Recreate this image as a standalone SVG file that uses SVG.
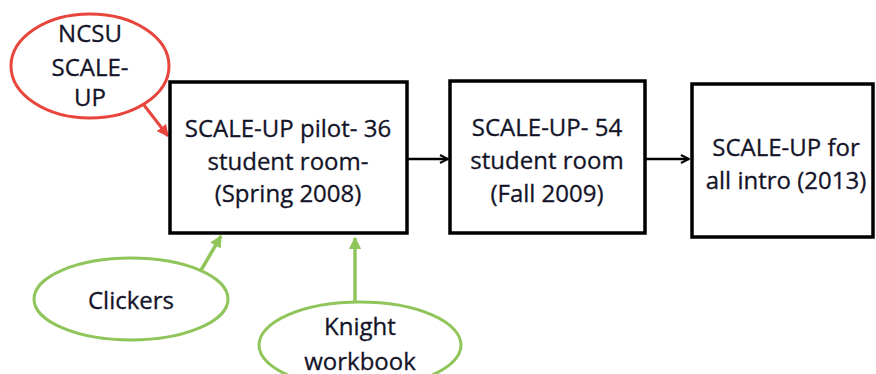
<svg xmlns="http://www.w3.org/2000/svg" width="876" height="374" viewBox="0 0 876 374">
  <style>
    .box { fill: #ffffff; stroke: #000000; stroke-width: 3.5; }
    .red { fill: #ffffff; stroke: #e8453c; stroke-width: 3; }
    .green { fill: #ffffff; stroke: #8fc55a; stroke-width: 3; }
    text { font-family: "Open Sans", "Liberation Sans", sans-serif; font-size: 24px; fill: #141428; text-anchor: middle; stroke: #141428; stroke-width: 0.3; }
    .flow { stroke: #000000; stroke-width: 2.5; fill: none; marker-end: url(#arrowBlack); }
    .redLink { stroke: #e8453c; stroke-width: 3; fill: none; marker-end: url(#arrowRed); }
    .greenLink { stroke: #8fc55a; stroke-width: 3.5; fill: none; marker-end: url(#arrowGreen); }
  </style>
  <defs>
    <marker id="arrowBlack" viewBox="0 0 10 10" refX="9" refY="5" markerWidth="4" markerHeight="4" orient="auto" markerUnits="strokeWidth">
      <path d="M1,1 L9,5 L1,9" fill="none" stroke="#000000" stroke-width="2"/>
    </marker>
    <marker id="arrowRed" viewBox="0 0 10 10" refX="9" refY="5" markerWidth="4" markerHeight="4" orient="auto" markerUnits="strokeWidth">
      <path d="M0,0 L10,5 L0,10 z" fill="#e8453c"/>
    </marker>
    <marker id="arrowGreen" viewBox="0 0 10 10" refX="9" refY="5" markerWidth="3.5" markerHeight="3.5" orient="auto" markerUnits="strokeWidth">
      <path d="M0,0 L10,5 L0,10 z" fill="#8fc55a"/>
    </marker>
  </defs>

  <g id="connectors">
    <line class="flow" x1="408" y1="159" x2="448" y2="159"/>
    <line class="flow" x1="646" y1="159" x2="689" y2="159"/>
    <line class="redLink" x1="140" y1="100" x2="168" y2="136"/>
    <line class="greenLink" x1="200" y1="272" x2="221" y2="236"/>
    <line class="greenLink" x1="355" y1="303" x2="355" y2="238"/>
  </g>

  <g id="ncsu">
    <ellipse class="red" cx="90" cy="66" rx="79" ry="52"/>
    <text x="90" y="42">NCSU</text>
    <text x="90" y="76">SCALE-</text>
    <text x="90" y="106">UP</text>
  </g>

  <g id="pilot">
    <rect class="box" x="170" y="82" width="237" height="151"/>
    <text x="288" y="137">SCALE-UP pilot- 36</text>
    <text x="288" y="170">student room-</text>
    <text x="288" y="202">(Spring 2008)</text>
  </g>

  <g id="room54">
    <rect class="box" x="450" y="81" width="195" height="152"/>
    <text x="547" y="136">SCALE-UP- 54</text>
    <text x="547" y="169">student room</text>
    <text x="547" y="202">(Fall 2009)</text>
  </g>

  <g id="allIntro">
    <rect class="box" x="692" y="84" width="181" height="153"/>
    <text x="786" y="156">SCALE-UP for</text>
    <text x="786" y="189">all intro (2013)</text>
  </g>

  <g id="clickers">
    <ellipse class="green" cx="131" cy="299" rx="97" ry="41"/>
    <text x="131" y="309">Clickers</text>
  </g>

  <g id="knight">
    <ellipse class="green" cx="360" cy="345" rx="101" ry="43"/>
    <text x="360" y="335">Knight</text>
    <text x="360" y="370">workbook</text>
  </g>
</svg>
